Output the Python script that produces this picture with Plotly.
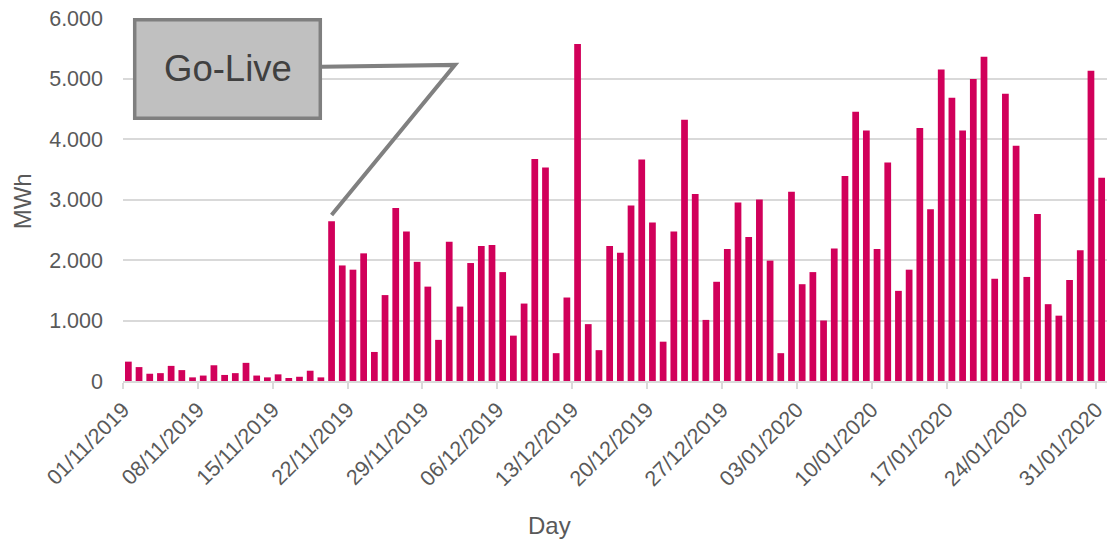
import pandas as pd
import plotly.graph_objects as go

# Daily energy, MWh
nov_2019 = [320, 230, 120, 130, 250, 180, 60, 90, 260, 100,
            130, 300, 90, 60, 110, 50, 70, 170, 60, 2640,
            1910, 1840, 2110, 480, 1420, 2860, 2470, 1970, 1560, 680]
dec_2019 = [2300, 1230, 1950, 2230, 2250, 1800, 750, 1280, 3670, 3530,
            460, 1380, 5570, 940, 510, 2230, 2120, 2900, 3660, 2620,
            650, 2470, 4320, 3090, 1010, 1640, 2180, 2950, 2380, 3000,
            1990]
jan_2020 = [460, 3130, 1600, 1800, 1000, 2190, 3390, 4450, 4140, 2180,
            3610, 1490, 1840, 4180, 2840, 5150, 4680, 4140, 4990, 5360,
            1690, 4750, 3890, 1720, 2760, 1270, 1080, 1670, 2160, 5130,
            3360]
mwh = nov_2019 + dec_2019 + jan_2020
days = pd.date_range("2019-11-01", "2020-01-31", freq="D")

go_live_day = pd.Timestamp("2019-11-20")
go_live_label = "Go-Live"
x_title = "Day"
y_title = "MWh"

BAR = "#d1005a"
GRID = "#d9d9d9"
TEXT = "#595959"
FONT = "Liberation Sans, Arial, Helvetica, sans-serif"

# bars sit in the middle of each calendar day
bar_x = days + pd.Timedelta(hours=12)

fig = go.Figure(go.Bar(x=bar_x, y=mwh, marker_color=BAR, marker_line_width=0))

# callout: box edge -> elbow -> just above the go-live bar
go_live_value = mwh[list(days).index(go_live_day)]
tip_x = (go_live_day + pd.Timedelta(hours=12)).strftime("%Y-%m-%d_%H:%M")
tip_y = go_live_value + 105
path = (f"M 2019-11-19_14:20,5195 "
        f"L 2019-12-02_01:00,5225 "
        f"L {tip_x},{tip_y}")

fig.update_layout(
    width=1109, height=544,
    margin=dict(l=123, r=2, t=18, b=163),
    paper_bgcolor="white", plot_bgcolor="white",
    bargap=0.37,
    separators=",.",
    showlegend=False,
    font=dict(family=FONT, size=21, color=TEXT),
    xaxis=dict(
        type="date",
        range=["2019-11-01", "2020-02-01"],
        tick0="2019-11-01", dtick=7 * 86400000,
        tickformat="%d/%m/%Y", tickangle=-45,
        ticks="outside", ticklen=6, tickwidth=1.5, tickcolor=GRID,
        showgrid=False, showline=True, linecolor=GRID, linewidth=1.5,
        tickfont=dict(size=21.5, color=TEXT),
    ),
    yaxis=dict(
        range=[0, 6000], dtick=1000, tickformat=",.0f",
        showgrid=True, gridcolor=GRID, gridwidth=1.5,
        zeroline=False, showline=False,
        ticklabelstandoff=19,
        tickfont=dict(size=21.5, color=TEXT),
    ),
    shapes=[
        dict(type="path", xref="x", yref="y", path=path,
             line=dict(color="#808080", width=4)),
        dict(type="rect", xref="paper", yref="paper",
             x0=0.0119, x1=0.2005, y0=0.7238, y1=0.9952,
             fillcolor="#c0c0c0", line=dict(color="#7f7f7f", width=3.5)),
    ],
    annotations=[
        dict(text=go_live_label, xref="paper", yref="paper",
             x=0.1062, y=0.862, showarrow=False,
             xanchor="center", yanchor="middle",
             font=dict(size=36.5, color="#404040", family=FONT)),
        dict(text=y_title, xref="paper", yref="paper",
             x=-0.1013, y=0.496, showarrow=False, textangle=-90,
             xanchor="center", yanchor="middle",
             font=dict(size=24, color=TEXT, family=FONT)),
        dict(text=x_title, xref="paper", yref="paper",
             x=0.4334, y=-0.397, showarrow=False,
             xanchor="center", yanchor="middle",
             font=dict(size=24, color=TEXT, family=FONT)),
    ],
)

fig.write_html("out.html")
